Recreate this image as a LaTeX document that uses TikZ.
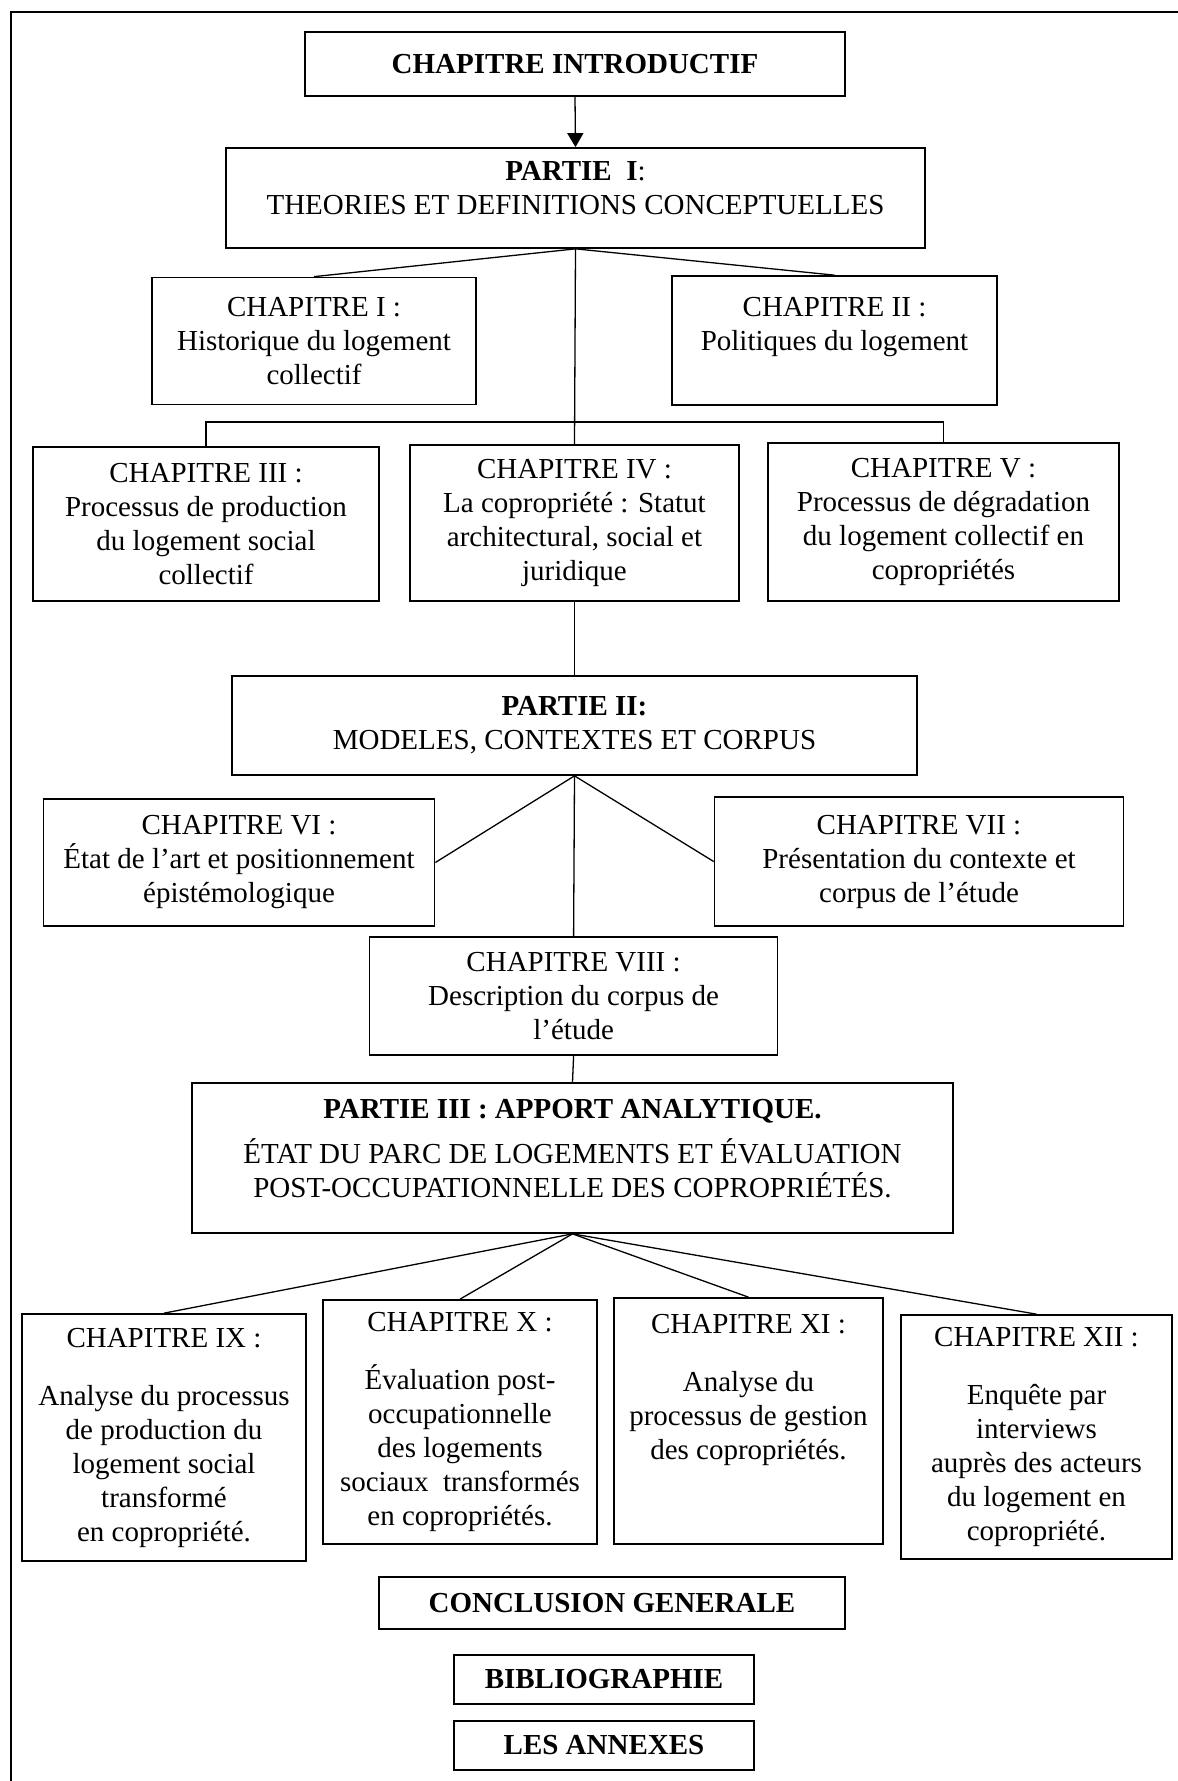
\documentclass[tikz,border=0pt]{standalone}
\usepackage{fontspec}
\setmainfont{Liberation Serif}
\usetikzlibrary{arrows.meta}
\begin{document}
\begin{tikzpicture}[x=1pt, y=-1pt,
  chapbox/.style={draw, line width=1.7pt, align=center, inner sep=6pt, font=\fontsize{29}{34}\selectfont},
  link/.style={line width=1.3pt}]
\path[fill=white, use as bounding box] (0,0) rectangle (1178,1781);
% cadre
\draw[line width=2pt] (1178,12) -- (11,12) -- (11,1781);
% introduction et partie I
\node[chapbox, minimum width=540pt, minimum height=64pt] at (575,64) (intro) {\textbf{CHAPITRE INTRODUCTIF}};
\node[chapbox, minimum width=699pt, minimum height=100pt] at (575.5,198) (p1) {\textbf{PARTIE~~I}:\\THEORIES ET DEFINITIONS CONCEPTUELLES\\[-14pt]~};
\node[chapbox, minimum width=324pt, minimum height=127pt] at (314,341) (c1) {CHAPITRE I :\\Historique du logement\\collectif};
\node[chapbox, minimum width=325pt, minimum height=129pt] at (834.5,340.5) (c2) {CHAPITRE II :\\Politiques du logement\\~};
\node[chapbox, minimum width=346pt, minimum height=154pt] at (206,524) (c3) {CHAPITRE III :\\Processus de production\\du logement social\\collectif};
\node[chapbox, minimum width=329pt, minimum height=156pt] at (574.5,523) (c4) {CHAPITRE IV :\\La copropriété : Statut\\architectural, social et\\juridique};
\node[chapbox, minimum width=351pt, minimum height=158pt] at (943.5,522) (c5) {CHAPITRE V :\\Processus de dégradation\\du logement collectif en\\copropriétés};
\coordinate (bar) at (575,422);
\draw[link, -{Triangle[length=14pt, width=16pt]}] (intro.south) -- (p1.north);
\draw[link] (p1.south) -- (c1.north);
\draw[link] (p1.south) -- (c2.north);
\draw[link] (p1.south) -- (c4.north);
\draw[link] (c3.north) |- (bar) -| (c5.north);
% partie II
\node[chapbox, minimum width=685pt, minimum height=99pt] at (574.5,725.5) (p2) {\textbf{PARTIE II:}\\MODELES, CONTEXTES ET CORPUS};
\node[chapbox, minimum width=391pt, minimum height=127pt] at (239,862.5) (c6) {CHAPITRE VI :\\État de l’art et positionnement\\épistémologique};
\node[chapbox, minimum width=409pt, minimum height=129pt] at (919,861.5) (c7) {CHAPITRE VII :\\Présentation du contexte et\\corpus de l’étude};
\node[chapbox, minimum width=408pt, minimum height=118pt] at (573.6,996) (c8) {CHAPITRE VIII :\\Description du corpus de\\l’étude};
\draw[link] (c4.south) -- (p2.north);
\draw[link] (p2.south) -- (c6.east);
\draw[link] (p2.south) -- (c7.west);
\draw[link] (p2.south) -- (c8.north);
% partie III
\node[chapbox, minimum width=761pt, minimum height=150pt] at (572.5,1158) (p3) {\textbf{PARTIE III : APPORT ANALYTIQUE.}\\[11pt]ÉTAT DU PARC DE LOGEMENTS ET ÉVALUATION\\POST-OCCUPATIONNELLE DES COPROPRIÉTÉS.\\[-14pt]~};
\node[chapbox, minimum width=284pt, minimum height=247pt] at (164,1437.5) (c9) {CHAPITRE IX :\\[24pt]Analyse du processus\\de production du\\logement social\\transformé\\en copropriété.};
\node[chapbox, minimum width=274pt, minimum height=244pt] at (460,1422) (c10) {CHAPITRE X :\\[24pt]Évaluation post-\\occupationnelle\\des logements\\sociaux~~transformés\\en copropriétés.};
\node[chapbox, minimum width=269pt, minimum height=246pt] at (748.5,1421) (c11) {CHAPITRE XI :\\[24pt]Analyse du\\processus de gestion\\des copropriétés.\\~\\~};
\node[chapbox, minimum width=271pt, minimum height=244pt] at (1036.5,1437) (c12) {CHAPITRE XII :\\[24pt]Enquête par\\interviews\\auprès des acteurs\\du logement en\\copropriété.};
\draw[link] (c8.south) -- (p3.north);
\draw[link] (p3.south) -- (c9.north);
\draw[link] (p3.south) -- (c10.north);
\draw[link] (p3.south) -- (c11.north);
\draw[link] (p3.south) -- (c12.north);
% fin
\node[chapbox, minimum width=466pt, minimum height=52pt] at (612,1603) (concl) {\textbf{CONCLUSION GENERALE}};
\node[chapbox, minimum width=300pt, minimum height=49pt] at (604,1679.5) (biblio) {\textbf{BIBLIOGRAPHIE}};
\node[chapbox, minimum width=300pt, minimum height=49pt] at (604,1745.5) (annex) {\textbf{LES ANNEXES}};
\end{tikzpicture}
\end{document}
